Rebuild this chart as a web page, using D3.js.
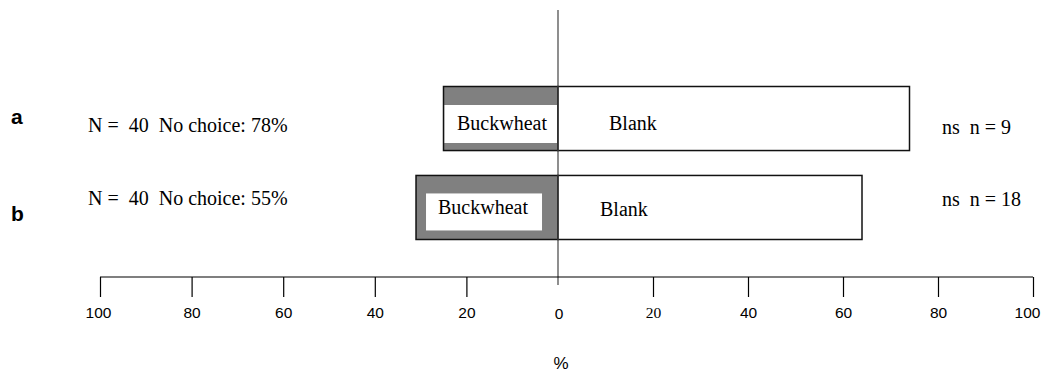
<!DOCTYPE html>
<html>
<head>
<meta charset="utf-8">
<script src="https://cdn.jsdelivr.net/npm/d3@7"></script>
<style>
  html, body { margin: 0; padding: 0; background: #fff; }
  svg { display: block; }
  .serif { font-family: "Liberation Serif", "Times New Roman", serif; }
  .sans { font-family: "Liberation Sans", Arial, sans-serif; }
</style>
</head>
<body>
<script>
// Two-choice test: percentage of choosers picking each arm
const rows = ["a", "b"];
const buckwheat = [25, 31];   // % choosing the buckwheat arm (drawn to the left)
const blank = [74, 64];       // % choosing the blank arm (drawn to the right)
const sampleN = [40, 40];
const noChoice = [78, 55];
const choosers = [9, 18];
const significance = ["ns", "ns"];
const tickValues = [-100, -80, -60, -40, -20, 0, 20, 40, 60, 80, 100];

const W = 1045, H = 374;
const svg = d3.select("body").append("svg").attr("width", W).attr("height", H);

// percent axis: negative = buckwheat side, positive = blank side
const x = d3.scaleLinear().domain([-100, 0, 100]).range([100, 558, 1033]);
const y = d3.scaleBand().domain(rows).range([86.5, 239.5]).paddingInner(0.28);

const axisY = 277;
const FS = 20;

// bars
const g = svg.append("g");
rows.forEach((r, i) => {
  const y0 = y(r), bh = y.bandwidth();
  // buckwheat bar (grey frame with white label box)
  g.append("rect")
    .attr("x", x(-buckwheat[i])).attr("y", y0)
    .attr("width", x(0) - x(-buckwheat[i])).attr("height", bh)
    .attr("fill", "#808080").attr("stroke", "#111").attr("stroke-width", 1.5);
  // blank bar
  g.append("rect")
    .attr("x", x(0)).attr("y", y0)
    .attr("width", x(blank[i]) - x(0)).attr("height", bh)
    .attr("fill", "#fff").attr("stroke", "#111").attr("stroke-width", 1.5);
});

// white label boxes inside the buckwheat bars
const a0 = y("a"), b0 = y("b");
g.append("rect").attr("x", x(-buckwheat[0]) + 1).attr("y", a0 + 18.5)
  .attr("width", x(0) - x(-buckwheat[0]) - 2).attr("height", 38).attr("fill", "#fff");
g.append("rect").attr("x", x(-buckwheat[1]) + 10).attr("y", b0 + 18)
  .attr("width", 116).attr("height", 37).attr("fill", "#fff");

// labels on bars
g.append("text").attr("class", "serif").attr("x", 502).attr("y", 130)
  .attr("text-anchor", "middle").attr("font-size", FS).text("Buckwheat");
g.append("text").attr("class", "serif").attr("x", 483).attr("y", 214)
  .attr("text-anchor", "middle").attr("font-size", FS).text("Buckwheat");
g.append("text").attr("class", "serif").attr("x", 609).attr("y", 130)
  .attr("font-size", FS).text("Blank");
g.append("text").attr("class", "serif").attr("x", 600).attr("y", 216)
  .attr("font-size", FS).text("Blank");

// row letters, sample info, significance
const textY = [132, 205];
const letterY = [124, 221];
const sigY = [134, 206];
rows.forEach((r, i) => {
  svg.append("text").attr("class", "sans").attr("x", 11).attr("y", letterY[i])
    .attr("font-size", 21).attr("font-weight", "bold").text(r);
  svg.append("text").attr("class", "serif").attr("x", 88).attr("y", textY[i])
    .attr("font-size", FS).attr("xml:space", "preserve")
    .text(`N =  ${sampleN[i]}  No choice: ${noChoice[i]}%`);
  svg.append("text").attr("class", "serif").attr("x", 942).attr("y", sigY[i])
    .attr("font-size", FS).attr("xml:space", "preserve")
    .text(`${significance[i]}  n = ${choosers[i]}`);
});

// central zero line
svg.append("line").attr("x1", x(0)).attr("x2", x(0)).attr("y1", 10).attr("y2", 285)
  .attr("stroke", "#444").attr("stroke-width", 1.2);

// percent axis
const axis = d3.axisBottom(x).tickValues(tickValues.filter(v => v !== 0))
  .tickSize(20).tickSizeOuter(0).tickPadding(10)
  .tickFormat(d => Math.abs(d));
const ax = svg.append("g").attr("transform", `translate(0,${axisY})`).call(axis);
ax.attr("font-size", null).attr("font-family", null);
ax.select(".domain").attr("stroke", "#000").attr("stroke-width", 1.2)
  .attr("d", `M${x(-100)},0H${x(100)}`);
ax.selectAll(".tick line").attr("stroke", "#000").attr("stroke-width", 1.2);
ax.selectAll(".tick text").attr("class", d => d === 20 ? "serif" : "sans")
  .attr("font-size", 15.5).attr("fill", "#000")
  .attr("dx", d => d === 100 ? -6 : (d === -100 ? -2 : 0));
// zero label sits under the centre line
svg.append("text").attr("class", "sans").attr("x", x(0) + 1).attr("y", axisY + 42)
  .attr("text-anchor", "middle").attr("font-size", 15.5).text("0");

svg.append("text").attr("class", "sans").attr("x", 561).attr("y", 369)
  .attr("text-anchor", "middle").attr("font-size", 17).text("%");
</script>
</body>
</html>
